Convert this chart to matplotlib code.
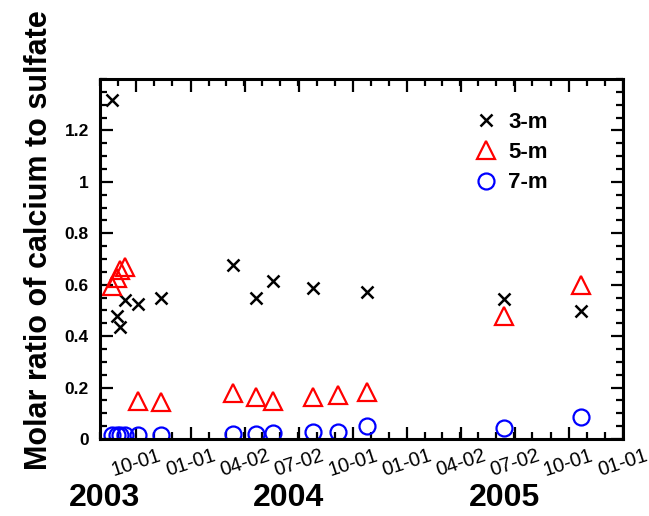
import numpy as np
import pandas as pd
import matplotlib
matplotlib.use("Agg")
import matplotlib.pyplot as plt
import matplotlib.dates as mdates

plt.rcParams["font.family"] = ["Liberation Sans", "DejaVu Sans"]

# sampling dates
dates_all = pd.to_datetime([
    "2003-08-21", "2003-08-29", "2003-09-04", "2003-09-12", "2003-10-05",
    "2003-11-12", "2004-03-12", "2004-04-21", "2004-05-19", "2004-07-26",
    "2004-09-07", "2004-10-26", "2005-06-14", "2005-10-22",
])
# 3-m has no sample on 2004-09-07
dates_3m = dates_all.delete(10)

ratio_3m = [1.32, 0.48, 0.435, 0.54, 0.525, 0.55, 0.675, 0.548, 0.613,
            0.588, 0.57, 0.543, 0.497]
ratio_5m = [0.594, 0.625, 0.659, 0.669, 0.148, 0.143, 0.178, 0.165, 0.149,
            0.165, 0.172, 0.181, 0.48, 0.597]
ratio_7m = [0.016, 0.016, 0.016, 0.016, 0.016, 0.016, 0.019, 0.019, 0.022,
            0.029, 0.029, 0.052, 0.044, 0.085]

tick_dates = pd.to_datetime([
    "2003-10-01", "2004-01-01", "2004-04-02", "2004-07-02", "2004-10-01",
    "2005-01-01", "2005-04-02", "2005-07-02", "2005-10-01", "2006-01-01",
])
tick_labels = [d.strftime("%m-%d") for d in tick_dates]
years = ["2003", "2004", "2005"]
year_x = [105, 289, 505]  # pixel centres of the year labels

fig = plt.figure(figsize=(6.49, 5.16), dpi=100)
ax = fig.add_axes([100 / 649, 1 - 439 / 516, 523 / 649, 360 / 516])

ax.plot(dates_3m, ratio_3m, ls="none", marker="x", color="black",
        ms=8.5, mew=1.8, label="3-m")
ax.plot(dates_all, ratio_5m, ls="none", marker="^", color="red",
        mfc="none", ms=13, mew=1.6, label="5-m")
ax.plot(dates_all, ratio_7m, ls="none", marker="o", color="blue",
        mfc="none", ms=11.5, mew=1.6, label="7-m")

ax.set_xlim(pd.Timestamp("2003-08-01"), pd.Timestamp("2006-01-01"))
ax.set_ylim(0, 1.4)

ax.set_xticks(tick_dates)
ax.set_xticklabels(tick_labels, rotation=18, ha="center", fontsize=14.5)
ax.xaxis.set_minor_locator(mdates.MonthLocator())
ax.set_yticks([0, 0.2, 0.4, 0.6, 0.8, 1.0, 1.2])
ax.set_yticklabels(["0", "0.2", "0.4", "0.6", "0.8", "1", "1.2"],
                   fontsize=12.5, fontweight="bold")
ax.yaxis.set_minor_locator(plt.MultipleLocator(0.05))

ax.tick_params(which="both", direction="in", top=True, right=True, width=1.6)
ax.tick_params(which="major", length=9)
ax.tick_params(which="minor", length=5)
ax.tick_params(axis="y", pad=8)
ax.tick_params(axis="x", pad=5)
for s in ax.spines.values():
    s.set_linewidth(2.2)

ax.set_ylabel("Molar ratio of calcium to sulfate", fontsize=22,
              fontweight="bold")
ax.yaxis.set_label_coords(-0.088, 0.553)

leg = ax.legend(loc="upper left", bbox_to_anchor=(0.717, 0.909), frameon=False,
                prop={"weight": "bold", "size": 16}, handlelength=1.0,
                handletextpad=0.5, labelspacing=0.42, borderpad=0,
                borderaxespad=0, numpoints=1)

for y, x in zip(years, year_x):
    fig.text(x / 649, 1 - 498 / 516, y, ha="center", va="center",
             fontsize=23, fontweight="bold")

fig.savefig("out.png", dpi=100)
